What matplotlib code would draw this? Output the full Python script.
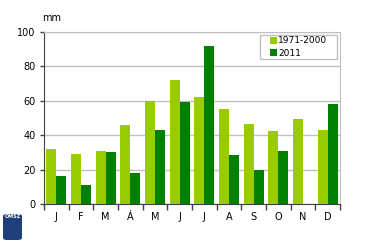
import numpy as np
import matplotlib
matplotlib.use("Agg")
import matplotlib.pyplot as plt
from matplotlib.patches import FancyBboxPatch, Rectangle

months = ["J", "F", "M", "Á", "M", "J", "J", "A", "S", "O", "N", "D"]
normal = [32, 29, 31, 46, 60, 72, 62, 55.5, 46.5, 42.5, 49.5, 43]
y2011 = [16, 11, 30, 18, 43, 59.5, 92, 28.5, 19.5, 31, 0, 58]
labels = ["1971-2000", "2011"]
colors = ["#99cc00", "#008000"]

plt.rcParams['font.family'] = ['DejaVu Sans']

W, H = 370, 242
fig = plt.figure(figsize=(W / 100, H / 100), dpi=100)
ax = fig.add_axes([44 / W, 1 - 204 / H, 296 / W, 172 / H])

x = np.arange(len(months))
w = 0.4
ax.bar(x - w / 2, normal, w, color=colors[0], label=labels[0], zorder=3)
ax.bar(x + w / 2, y2011, w, color=colors[1], label=labels[1], zorder=3)

ax.set_xlim(-0.5, len(months) - 0.5)
ax.set_ylim(0, 100)
ax.set_yticks([0, 20, 40, 60, 80, 100])
ax.yaxis.grid(True, color="#c0c0c0", linewidth=1, zorder=0)

ax.set_xticks(x)
ax.set_xticklabels(months)
ax.set_xticks(np.arange(-0.5, len(months)), minor=True)
ax.tick_params(axis="x", which="major", length=0, labelsize=7, pad=6)
ax.tick_params(axis="x", which="minor", length=4, width=1, color="#404040")
ax.tick_params(axis="y", length=3, width=1, color="#404040", labelsize=7, pad=3)

for s in ["top", "right"]:
    ax.spines[s].set_color("#c0c0c0")
ax.spines["left"].set_color("#404040")
ax.spines["bottom"].set_color("#404040")

# legend box drawn separately so its padding matches
box = Rectangle((260 / W, 1 - 59 / H), 77 / W, 24 / H, transform=fig.transFigure,
                facecolor="white", edgecolor="#c0c0c0", linewidth=1, zorder=5)
fig.patches.append(box)
leg = fig.legend(loc="center left", bbox_to_anchor=(270 / W, 1 - 47 / H), fontsize=6.5,
                 frameon=False, handlelength=0.8, handleheight=0.8,
                 handletextpad=0.1, borderpad=0, labelspacing=0.4, borderaxespad=0)
leg.set_zorder(6)

fig.text(42 / W, 1 - 18 / H, "mm", fontsize=7, ha="left", va="center")

# small logo in the corner
logo = FancyBboxPatch((3 / W, 2 / H), 19 / W, 26 / H,
                      boxstyle="round,pad=0,rounding_size=0.01",
                      transform=fig.transFigure, facecolor="#1f3f7a", edgecolor="none")
fig.patches.append(logo)
fig.text(12.5 / W, 1 - 217 / H, "OMSZ", fontsize=3.5, color="white",
         ha="center", va="center", fontweight="bold")

fig.savefig("out.png", dpi=100)
